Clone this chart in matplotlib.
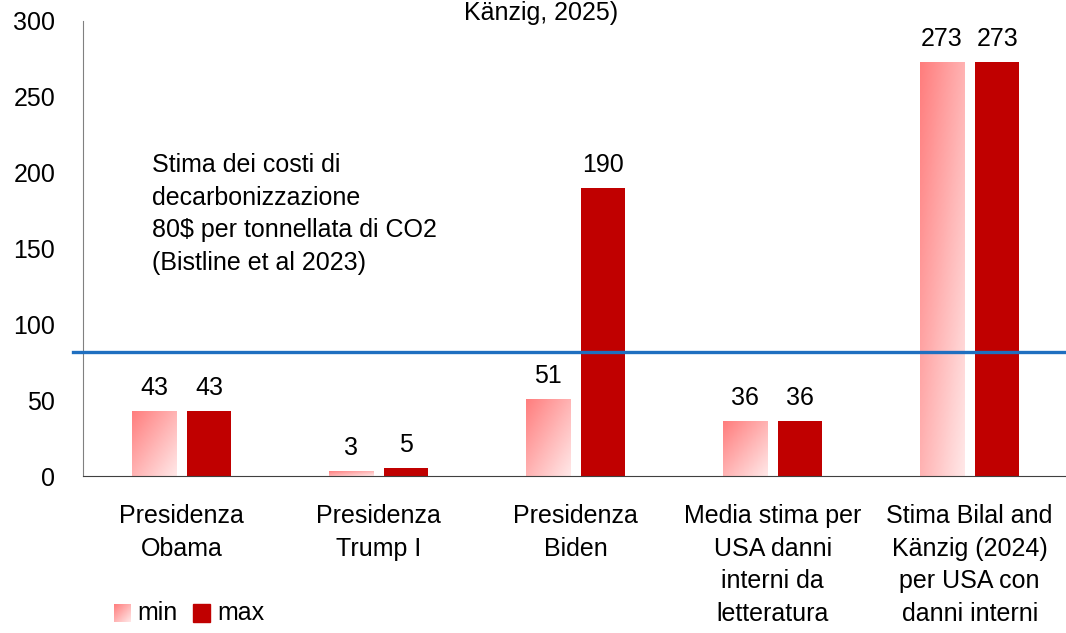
import numpy as np
import matplotlib
matplotlib.use("Agg")
import matplotlib.pyplot as plt
from matplotlib.colors import LinearSegmentedColormap

categories = [
    "Presidenza\nObama",
    "Presidenza\nTrump I",
    "Presidenza\nBiden",
    "Media stima per\nUSA danni\ninterni da\nletteratura",
    "Stima Bilal and\nKänzig (2024)\nper USA con\ndanni interni",
]
min_vals = [43, 3, 51, 36, 273]
max_vals = [43, 5, 190, 36, 273]
decarb_cost = 82
yticks = [0, 50, 100, 150, 200, 250, 300]
note = "Stima dei costi di\ndecarbonizzazione\n80$ per tonnellata di CO2\n(Bistline et al 2023)"
title_tail = "Känzig, 2025)"

plt.rcParams['font.family'] = ['Liberation Sans', 'DejaVu Sans']
FS = 18
LS = 1.46
pink = LinearSegmentedColormap.from_list("pink", ["#ff7d7d", "#ffe8e8"])
dark_red = "#c00000"


def gradient():
    n = 64
    u = np.linspace(0, 1, n)
    return (u[None, :] + u[:, None]) / 2


def gradient_bars(ax, bars):
    for b in bars:
        x0, y0 = b.get_x(), b.get_y()
        w, h = b.get_width(), b.get_height()
        im = ax.imshow(gradient(), cmap=pink, vmin=0, vmax=1, aspect='auto',
                       extent=[x0, x0 + w, y0, y0 + h], origin='upper', zorder=2)
        im.set_clip_path(b)


def main():
    fig = plt.figure(figsize=(10.66, 6.33), dpi=100)
    ax = fig.add_axes([0.078, 0.248, 0.924, 0.719])

    x = np.arange(len(categories))
    width = 0.225
    off = 0.14
    bmin = ax.bar(x - off, min_vals, width, facecolor="none", edgecolor="none", zorder=2)
    gradient_bars(ax, bmin)
    bmax = ax.bar(x + off, max_vals, width, color=dark_red, zorder=2)

    for bars, vals in [(bmin, min_vals), (bmax, max_vals)]:
        for b, v in zip(bars, vals):
            ax.annotate(str(v), (b.get_x() + b.get_width() / 2, v),
                        xytext=(0, 8), textcoords="offset points",
                        ha="center", va="bottom", fontsize=FS)

    ax.axhline(decarb_cost, color="#1f6fc0", lw=2.4, zorder=3, xmin=-0.01, clip_on=False)

    ax.set_xlim(-0.5, len(categories) - 0.5)
    ax.set_ylim(0, 300)
    ax.set_yticks(yticks)
    ax.set_xticks(x)
    ax.set_xticklabels(categories, fontsize=FS, linespacing=LS, va="top")
    ax.tick_params(axis="both", length=0, labelsize=FS)
    ax.tick_params(axis="x", pad=20)
    ax.tick_params(axis="y", pad=20)
    for t in ax.get_yticklabels():
        t.set_ha("right")
    ax.spines["top"].set_visible(False)
    ax.spines["right"].set_visible(False)
    ax.spines["left"].set_color("#808080")
    ax.spines["bottom"].set_color("#404040")

    ax.text(0.07, 0.71, note, transform=ax.transAxes, fontsize=FS,
            ha="left", va="top", linespacing=LS)

    fig.text(0.508, 0.998, title_tail, fontsize=FS, ha="center", va="top")

    # legend
    lax = fig.add_axes([114 / 1066, 1 - 622 / 633, 17 / 1066, 18 / 633])
    lax.imshow(gradient(), cmap=pink, vmin=0, vmax=1, aspect='auto')
    lax.axis("off")
    fig.patches.append(plt.Rectangle((193 / 1066, 1 - 622 / 633), 17 / 1066, 18 / 633,
                                     transform=fig.transFigure, color=dark_red))
    fig.text(137 / 1066, 1 - 613 / 633, "min", fontsize=FS, va="center")
    fig.text(217 / 1066, 1 - 613 / 633, "max", fontsize=FS, va="center")

    fig.savefig("out.png", dpi=100)


if __name__ == "__main__":
    main()
